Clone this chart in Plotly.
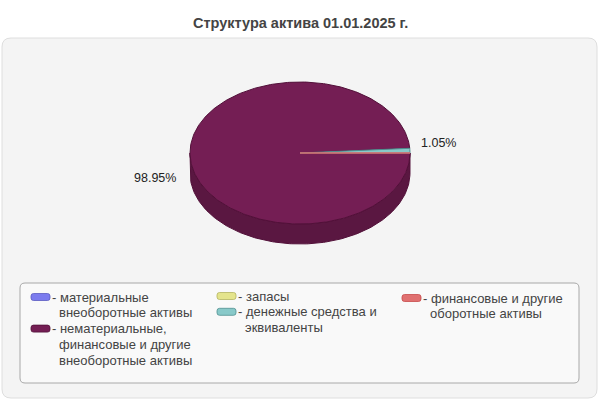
import textwrap
import numpy as np
import plotly.graph_objects as go

# ---------------- data ----------------
title = "Структура актива 01.01.2025 г."
categories = [
    "материальные внеоборотные активы",
    "нематериальные, финансовые и другие внеоборотные активы",
    "запасы",
    "денежные средства и эквиваленты",
    "финансовые и другие оборотные активы",
]
values = [0.0, 98.95, 0.0, 1.05, 0.004]
colors = ["#7b7bee", "#741e54", "#e4e48c", "#88c9c9", "#e07070"]
edge_colors = ["#5a5ac0", "#521039", "#b4b460", "#4f8f8f", "#c84a4a"]
wall_colors = ["#5c5cb8", "#5a1741", "#b0b06a", "#5f9a9a", "#b04e4e"]
legend_cols = [0, 0, 1, 1, 2]

# ---------------- geometry / style ----------------
FONT = "Liberation Sans, Arial, sans-serif"
cx, cy, rx, ry, depth = 300, 153, 110, 71, 20

total = sum(values)
fracs = np.array(values) / total
starts = np.concatenate([[0.0], np.cumsum(fracs)[:-1]]) * 360.0
ends = starts + fracs * 360.0


def arc(a0, a1, yoff=0.0):
    n = max(2, int(abs(a1 - a0) / 1.0) + 2)
    t = np.radians(np.linspace(a0, a1, n))
    return cx + rx * np.cos(t), cy + yoff + ry * np.sin(t)


fig = go.Figure()

# side walls (front half of the ellipse only)
for i, v in enumerate(values):
    if v <= 0:
        continue
    for lo, hi in [(0.0, 180.0), (360.0, 540.0)]:
        a0 = max(starts[i], lo)
        a1 = min(ends[i], hi)
        if a1 > a0:
            xt, yt = arc(a0, a1)
            xb, yb = arc(a1, a0, depth)
            xs = np.concatenate([xt, xb, xt[:1]])
            ys = np.concatenate([yt, yb, yt[:1]])
            fig.add_trace(go.Scatter(
                x=xs, y=ys, mode="lines", fill="toself",
                fillcolor=wall_colors[i],
                line=dict(color=edge_colors[i] if i != 4 else colors[i], width=1),
                hoverinfo="skip", showlegend=False))

# top faces
for i, v in enumerate(values):
    if v <= 0:
        continue
    xa, ya = arc(starts[i], ends[i])
    xs = np.concatenate([[cx], xa, [cx]])
    ys = np.concatenate([[cy], ya, [cy]])
    fig.add_trace(go.Scatter(
        x=xs, y=ys, mode="lines", fill="toself",
        fillcolor=colors[i],
        line=dict(color=edge_colors[i] if i != 4 else colors[i], width=1),
        name=categories[i], hoverinfo="name", showlegend=False))

annotations = []
# percent labels
for i, v in enumerate(values):
    pct = fracs[i] * 100
    if pct < 0.5:
        continue
    m = np.radians((starts[i] + ends[i]) / 2)
    c = np.cos(m)
    x = cx + (rx + (12 if c < 0 else 9)) * np.sign(c)
    y = cy + ry * np.sin(m) + (23 if c < 0 else -8)
    annotations.append(dict(
        x=x, y=y, xref="x", yref="y", text=f"{pct:.2f}%", showarrow=False,
        xanchor="right" if c < 0 else "left", yanchor="middle",
        font=dict(family=FONT, size=12.5, color="#222")))

# title
annotations.append(dict(
    x=300, y=23, xref="x", yref="y", text=f"<b>{title}</b>", showarrow=False,
    xanchor="center", yanchor="middle",
    font=dict(family=FONT, size=14.5, color="#444")))


def rrect(x0, y0, x1, y1, r):
    return (f"M{x0 + r},{y0} L{x1 - r},{y0} Q{x1},{y0} {x1},{y0 + r} "
            f"L{x1},{y1 - r} Q{x1},{y1} {x1 - r},{y1} L{x0 + r},{y1} "
            f"Q{x0},{y1} {x0},{y1 - r} L{x0},{y0 + r} Q{x0},{y0} {x0 + r},{y0} Z")


shapes = [
    dict(type="path", path=rrect(2, 38, 597, 398, 9), xref="x", yref="y",
         fillcolor="#f4f4f4", line=dict(color="#dedede", width=1), layer="below"),
    dict(type="path", path=rrect(20, 283, 579, 383, 5), xref="x", yref="y",
         fillcolor="#f9f9f9", line=dict(color="#a8a8a8", width=1), layer="below"),
]

# legend (three columns)
col_icon_x = [31, 217, 402]
line_step = 15.8
col_y = [297.0, 296.0, 298.0]
for i, name in enumerate(categories):
    c = legend_cols[i]
    lines = textwrap.wrap(name, 19)
    y0 = col_y[c]
    ix = col_icon_x[c]
    shapes.append(dict(type="path", path=rrect(ix, y0 - 3.5, ix + 19, y0 + 3.5, 2.5),
                       xref="x", yref="y", fillcolor=colors[i],
                       line=dict(color=edge_colors[i], width=0.8), layer="above"))
    dash_x = ix + 19
    text_x = dash_x + 7
    for k, ln in enumerate(lines):
        annotations.append(dict(
            x=dash_x if k == 0 else text_x, y=y0 + k * line_step, xref="x", yref="y",
            text=("- " + ln) if k == 0 else ln, showarrow=False,
            xanchor="left", yanchor="middle",
            font=dict(family=FONT, size=13, color="#444")))
    col_y[c] = y0 + len(lines) * line_step

fig.update_layout(
    width=600, height=400,
    margin=dict(l=0, r=0, t=0, b=0),
    paper_bgcolor="#ffffff", plot_bgcolor="#ffffff",
    xaxis=dict(range=[0, 600], visible=False, fixedrange=True),
    yaxis=dict(range=[400, 0], visible=False, fixedrange=True),
    showlegend=False,
    shapes=shapes,
    annotations=annotations,
    font=dict(family=FONT),
)

fig.write_html(
    "out.html",
    config={"displayModeBar": False},
    post_script="document.body.style.margin='0';document.body.style.overflow='hidden';",
)
